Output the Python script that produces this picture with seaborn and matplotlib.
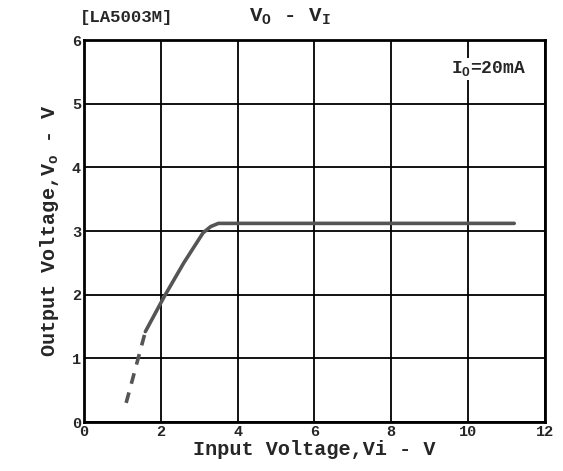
import matplotlib
matplotlib.use("Agg")
import matplotlib.pyplot as plt
import seaborn as sns
import pandas as pd

solid_vi = [1.6, 2.1, 2.6, 3.1, 3.3, 3.5, 5.0, 7.0, 9.0, 11.2]
solid_vo = [1.42, 1.98, 2.5, 2.97, 3.07, 3.12, 3.12, 3.12, 3.12, 3.12]
dash_vi = [1.1, 1.6]
dash_vo = [0.3, 1.42]

x_ticks = [0, 2, 4, 6, 8, 10, 12]
y_ticks = [0, 1, 2, 3, 4, 5, 6]

sns.set_style("white")
plt.rcParams['font.family'] = ['Liberation Mono', 'DejaVu Sans Mono']
plt.rcParams['font.weight'] = 'bold'
plt.rcParams['mathtext.fontset'] = 'custom'
plt.rcParams['mathtext.rm'] = 'Liberation Mono:bold'

fig = plt.figure(figsize=(5.63, 4.71), dpi=100)
ax = fig.add_axes([0.149, 0.104, 0.819, 0.811])

solid = pd.DataFrame({'vi': solid_vi, 'vo': solid_vo})
dash = pd.DataFrame({'vi': dash_vi, 'vo': dash_vo})
sns.lineplot(data=solid, x='vi', y='vo', ax=ax, color='#555555', lw=2.6, sort=False)
sns.lineplot(data=dash, x='vi', y='vo', ax=ax, color='#555555', lw=2.6,
             linestyle=(0, (3, 2.5)), sort=False)

ax.set_xlim(0, 12)
ax.set_ylim(0, 6)
ax.set_xticks(x_ticks)
ax.set_yticks(y_ticks)
ax.grid(True, which='major', color='black', lw=1.3)
ax.tick_params(length=0, labelsize=11, pad=2)
for s in ax.spines.values():
    s.set_color('black')
    s.set_linewidth(2)

ax.set_xlabel('Input Voltage,Vi - V', fontsize=14.5, fontweight='bold', labelpad=1)
ax.set_ylabel(r'Output Voltage,V$_\mathrm{o}$ - V', fontsize=14.5, fontweight='bold', labelpad=8)

fig.text(0.142, 0.962, '[LA5003M]', fontsize=12.5, fontweight='bold', ha='left', va='center')
fig.text(0.515, 0.965, r'V$_\mathrm{O}$ - V$_\mathrm{I}$', fontsize=15, fontweight='bold',
         ha='center', va='center')
ax.text(11.5, 5.55, r'I$_\mathrm{O}$=20mA', fontsize=13, fontweight='bold', ha='right',
        va='center', bbox=dict(facecolor='white', edgecolor='none', pad=1))

fig.savefig('out.png', dpi=100)
